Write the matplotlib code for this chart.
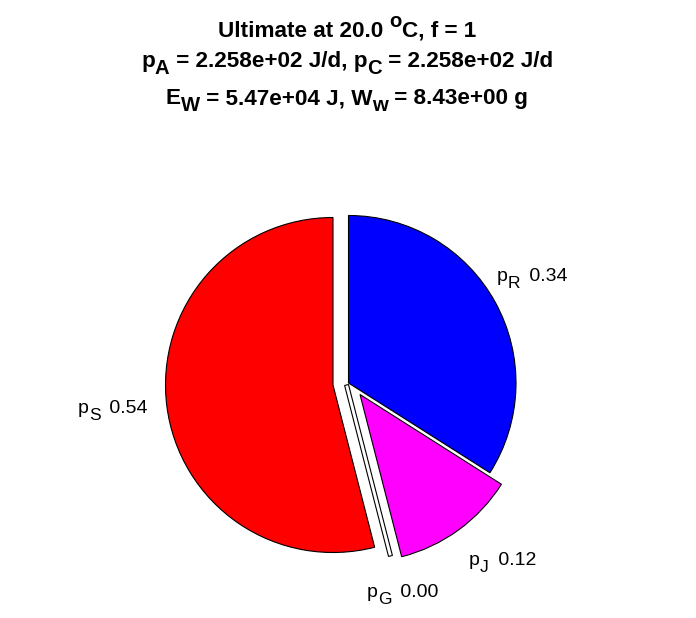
import matplotlib
matplotlib.use("Agg")
import matplotlib.pyplot as plt
from matplotlib.patches import Wedge, Polygon
import numpy as np

# ---- data ----
names = ["R", "J", "G", "S"]
fractions = [0.34, 0.12, 0.00, 0.54]
colors = ["#0000FF", "#FF00FF", "#FFFFFF", "#FF0000"]
title_lines = [
    [("Ultimate at 20.0 ", "n"), ("o", "sup"), ("C, f = 1", "n")],
    [("p", "n"), ("A", "sub"), (" = 2.258e+02 J/d, p", "n"), ("C", "sub"), (" = 2.258e+02 J/d", "n")],
    [("E", "n"), ("W", "sub"), (" = 5.47e+04 J, W", "n"), ("w", "sub"), (" = 8.43e+00 g", "n")],
]

# ---- layout (pixel coords, y from top) ----
W, H = 696, 618
R = 167.5
apex = {"R": (348.5, 383.0), "J": (360.0, 394.5), "G": (348.5, 384.5), "S": (333.0, 385.0)}
label_pos = {"R": (497, 281), "J": (469, 565), "G": (367, 597), "S": (78, 413)}
title_y = [37, 67, 104]
TITLE_FS = 16.2
LABEL_FS = 14.0

plt.rcParams["font.family"] = ["Liberation Sans", "DejaVu Sans"]

fig = plt.figure(figsize=(W / 100, H / 100), dpi=100)
ax = fig.add_axes([0, 0, 1, 1])
ax.set_xlim(0, W)
ax.set_ylim(0, H)
ax.set_aspect("equal")
ax.axis("off")
renderer = fig.canvas.get_renderer()


def P(x, y):
    return (x, H - y)


def rich_text(x, y, pieces, fs, weight, ha, sub_drop, sup_rise, sub_pad=0.0):
    """x,y in pixel coords (y from top, baseline)."""
    arts = []
    widths = []
    em = fs * 100 / 72.0
    for txt, kind in pieces:
        size = fs if kind == "n" else fs * 0.9
        t = ax.text(0, 0, txt, fontsize=size, fontweight=weight, ha="left", va="baseline")
        t2 = ax.text(0, 0, txt + "|", fontsize=size, fontweight=weight)
        t3 = ax.text(0, 0, "|", fontsize=size, fontweight=weight)
        w = t2.get_window_extent(renderer).width - t3.get_window_extent(renderer).width
        t2.remove(); t3.remove()
        if kind == "sub":
            w += sub_pad * em
        arts.append((t, kind))
        widths.append(w)
    total = sum(widths)
    x0 = x - total / 2 if ha == "center" else x
    for (t, kind), w in zip(arts, widths):
        dy = 0
        if kind == "sub":
            dy = sub_drop * em
        elif kind == "sup":
            dy = -sup_rise * em
        t.set_position(P(x0, y + dy))
        x0 += w


start = 90.0
for name, frac, col in zip(names, fractions, colors):
    t2 = start
    t1 = start - frac * 360.0
    cx, cy = P(*apex[name])
    if frac > 0:
        ax.add_patch(Wedge((cx, cy), R, t1, t2, facecolor=col, edgecolor="black", linewidth=0.8))
    else:
        ang = np.deg2rad(t1)
        d = np.array([np.cos(ang), np.sin(ang)])
        perp = np.array([-d[1], d[0]]) * 4.0
        p0 = np.array([cx, cy])
        L = R + 9
        pts = [p0, p0 + L * d, p0 + L * d - perp, p0 - perp]
        ax.add_patch(Polygon(pts, closed=True, facecolor=col, edgecolor="black", linewidth=0.8))
    lx, ly = label_pos[name]
    rich_text(lx, ly, [("p", "n"), (name, "sub"), (" %.2f" % frac, "n")],
              LABEL_FS, "normal", "left", 0.38, 0, sub_pad=0.2)
    start = t1

for line, y in zip(title_lines, title_y):
    rich_text(347, y, line, TITLE_FS, "bold", "center", 0.3, 0.45)

fig.savefig("out.png", dpi=100)
